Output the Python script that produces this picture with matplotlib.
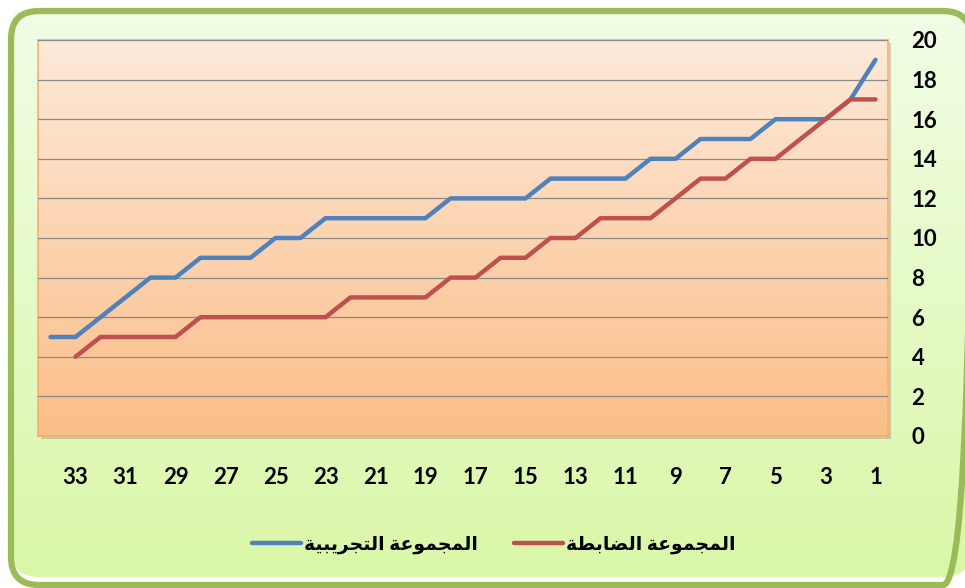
import numpy as np
import matplotlib.pyplot as plt
from matplotlib.patches import FancyBboxPatch, Rectangle

plt.rcParams['font.family'] = ['Lato', 'DejaVu Sans']

# category numbers (x axis is reversed: 1 on the right)
categories = list(range(1, 35))
tick_values = list(range(1, 34, 2))

experimental = [19, 17, 16, 16, 16, 15, 15, 15, 14, 14, 13, 13, 13, 13, 12, 12, 12,
                12, 11, 11, 11, 11, 11, 10, 10, 9, 9, 9, 8, 8, 7, 6, 5, 5]
control = [17, 17, 16, 15, 14, 14, 13, 13, 12, 11, 11, 11, 10, 10, 9, 9, 8,
           8, 7, 7, 7, 7, 6, 6, 6, 6, 6, 6, 5, 5, 5, 5, 4, np.nan]

label_exp = 'المجموعة التجريبية'
label_ctl = 'المجموعة الضابطة'

# presentation forms: isolated, final, initial, medial
FORMS = {
    'ا': ('\uFE8D', '\uFE8E', None, None),
    'ب': ('\uFE8F', '\uFE90', '\uFE91', '\uFE92'),
    'ة': ('\uFE93', '\uFE94', None, None),
    'ت': ('\uFE95', '\uFE96', '\uFE97', '\uFE98'),
    'ج': ('\uFE9D', '\uFE9E', '\uFE9F', '\uFEA0'),
    'ر': ('\uFEAD', '\uFEAE', None, None),
    'ض': ('\uFEBD', '\uFEBE', '\uFEBF', '\uFEC0'),
    'ط': ('\uFEC1', '\uFEC2', '\uFEC3', '\uFEC4'),
    'ع': ('\uFEC9', '\uFECA', '\uFECB', '\uFECC'),
    'ل': ('\uFEDD', '\uFEDE', '\uFEDF', '\uFEE0'),
    'م': ('\uFEE1', '\uFEE2', '\uFEE3', '\uFEE4'),
    'و': ('\uFEED', '\uFEEE', None, None),
    'ي': ('\uFEF1', '\uFEF2', '\uFEF3', '\uFEF4'),
}


def shape(text):
    out = []
    for i, c in enumerate(text):
        if c not in FORMS:
            out.append(c)
            continue
        prev = text[i - 1] if i > 0 else ''
        nxt = text[i + 1] if i + 1 < len(text) else ''
        pj = prev in FORMS and FORMS[prev][2] is not None
        nj = FORMS[c][2] is not None and nxt in FORMS
        if pj and nj:
            out.append(FORMS[c][3])
        elif pj:
            out.append(FORMS[c][1])
        elif nj:
            out.append(FORMS[c][2])
        else:
            out.append(FORMS[c][0])
    return ''.join(out)[::-1]


W, H = 965, 588
fig = plt.figure(figsize=(W / 100, H / 100), dpi=100)
fig.patch.set_facecolor('white')

# background panel with rounded green border (runs off the right edge)
bg = fig.add_axes([0, 0, 1, 1], zorder=-10)
bg.set_xlim(0, W)
bg.set_ylim(H, 0)
bg.axis('off')
panel = FancyBboxPatch((11, 11), W - 5, H - 14, boxstyle='round,pad=0,rounding_size=28',
                       facecolor='none', edgecolor='#9BBB59', linewidth=4.5)
grad = np.linspace(0, 1, 256).reshape(-1, 1)
green = np.array([[0.945, 0.992, 0.898]]) * (1 - grad) + np.array([[0.855, 0.969, 0.655]]) * grad
im = bg.imshow(green.reshape(256, 1, 3), extent=(11, W + 6, H - 3, 11), aspect='auto')
im.set_clip_path(panel)
bg.add_patch(panel)
bg.add_patch(Rectangle((41, 43), 850, 396, facecolor='#7f7f7f', alpha=0.35, edgecolor='none'))

ax = fig.add_axes([38 / W, 1 - 436 / H, 850 / W, 396 / H])
ax.set_facecolor('none')
orange = np.array([[0.992, 0.918, 0.855]]) * (1 - grad) + np.array([[0.984, 0.745, 0.533]]) * grad
ax.imshow(orange.reshape(256, 1, 3), extent=(0, 1, 0, 1), transform=ax.transAxes,
          aspect='auto', zorder=0)

ax.plot(categories, experimental, color='#4F81BD', linewidth=3.2, solid_capstyle='round',
        solid_joinstyle='round', label=shape(label_exp), zorder=3)
ax.plot(categories, control, color='#C0504D', linewidth=3.2, solid_capstyle='round',
        solid_joinstyle='round', label=shape(label_ctl), zorder=3)

ax.set_xlim(34.5, 0.5)
ax.set_ylim(0, 20)
ax.set_yticks(range(0, 21, 2))
ax.set_xticks(tick_values)
ax.set_xticklabels([str(v) for v in tick_values])
ax.yaxis.tick_right()
ax.grid(axis='y', color='#8a8a8a', linewidth=0.9, zorder=1)
ax.set_axisbelow(False)
ax.tick_params(axis='y', length=0, pad=17, labelsize=16)
ax.tick_params(axis='x', length=0, pad=22, labelsize=16)
for lab in ax.get_xticklabels() + ax.get_yticklabels():
    lab.set_fontweight('bold')
for lab in ax.get_yticklabels():
    lab.set_horizontalalignment('left')
for sp in ax.spines.values():
    sp.set_color('#F9B070')
    sp.set_linewidth(1.2)

fig.legend(loc='center', bbox_to_anchor=(494 / W, 1 - 545 / H), ncol=2, frameon=False,
           prop={'size': 13.5, 'weight': 'bold'}, handlelength=2.6, handletextpad=0.2,
           columnspacing=1.9)

fig.savefig('out.png', dpi=100)
